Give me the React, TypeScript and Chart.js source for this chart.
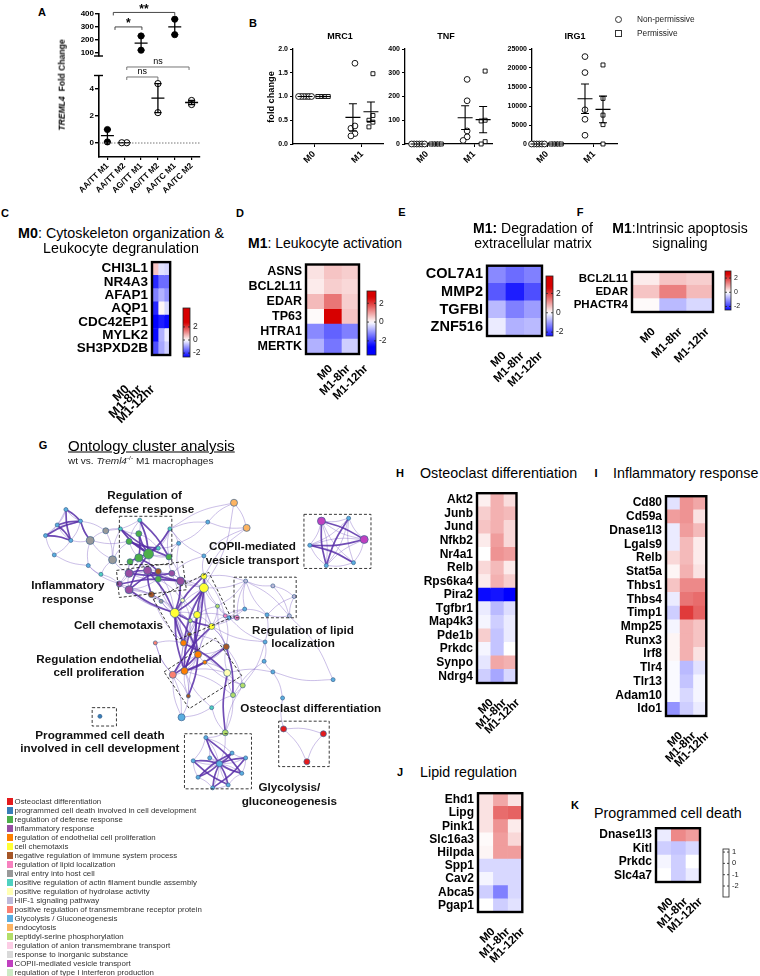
import React, { useEffect, useRef } from "react";
import { Chart, registerables } from "chart.js";

Chart.register(...registerables);
const FONT = "'Liberation Sans', Arial, Helvetica, sans-serif";
Chart.defaults.font.family = FONT;
Chart.defaults.color = "#000";

/* ---------------- Panel A data ---------------- */
const A_GROUPS = ["AA/TT M1", "AA/TT M2", "AG/TT M1", "AG/TT M2", "AA/TC M1", "AA/TC M2"];
const A_FILLED = [true, false, true, false, true, false];
const A_POINTS = [[1.0, 0.08], [0.02, 0.02], [230, 120], [4.4, 2.25], [360, 240], [3.15, 2.85]];
const A_TOP_TICKS = [100, 200, 300, 400];
const A_LOW_TICKS = [0, 2, 4];
const A_BRACKETS_TOP = [
  { from: 1.35, to: 5, y: 412, label: "**" },
  { from: 1.45, to: 3.05, y: 300, label: "*" },
];
const A_BRACKETS_LOW = [
  { from: 2.15, to: 5.85, y: 5.63, label: "ns" },
  { from: 2.15, to: 4.0, y: 4.89, label: "ns" },
];

/* ---------------- Panel B data ---------------- */
const B_X = ["M0", "M1"];
const MRC1_NONPERM = [[1, 1, 1, 1, 1, 1], [1.7, 0.33, 0.38, 0.22, 0.17]];
const MRC1_PERM = [[1, 1, 1, 1, 1], [1.48, 0.6, 0.5, 0.36, 0.46]];
const TNF_NONPERM = [[0, 0, 0, 0, 0, 0], [272, 182, 55, 30, 15]];
const TNF_PERM = [[0, 0, 0, 0, 0], [307, 100, 97, 10, 0]];
const IRG1_NONPERM = [[0, 0, 0, 0, 0, 0], [23000, 18800, 9000, 6500, 2300]];
const IRG1_PERM = [[0, 0, 0, 0, 0], [20800, 12000, 7600, 5100, 0]];

/* ---------------- Heatmap data ---------------- */
const HM_COLS = ["M0", "M1-8hr", "M1-12hr"];
const C_GENES = ["CHI3L1", "NR4A3", "AFAP1", "AQP1", "CDC42EP1", "MYLK2", "SH3PXD2B"];
const C_VALS = [[0.6, -0.3, -0.4], [-2.2, -1.5, -1.5], [-1.3, -0.8, -1.1], [-2.2, 0.1, -0.4], [-2.6, -2.3, -2.5], [-2.5, -0.8, -0.2], [-1.8, -0.9, -0.5]];
const D_GENES = ["ASNS", "BCL2L11", "EDAR", "TP63", "HTRA1", "MERTK"];
const D_VALS = [[0.3, 0.6, 0.5], [0.2, 0.5, 0.4], [0.7, 1.4, 0.5], [0.05, 3.0, 0.6], [-1.2, -1.6, -1.3], [-0.8, -1.4, -0.5]];
const E_GENES = ["COL7A1", "MMP2", "TGFBI", "ZNF516"];
const E_VALS = [[-1.2, -1.5, -1.3], [-1.7, -2.3, -1.8], [-0.7, -1.3, -1.0], [-0.2, -0.8, -0.7]];
const F_GENES = ["BCL2L11", "EDAR", "PHACTR4"];
const F_VALS = [[0.2, 0.6, 0.5], [0.6, 1.3, 0.7], [0.05, -0.7, -0.4]];
const H_GENES = ["Akt2", "Junb", "Jund", "Nfkb2", "Nr4a1", "Relb", "Rps6ka4", "Pira2", "Tgfbr1", "Map4k3", "Pde1b", "Prkdc", "Synpo", "Ndrg4"];
const H_VALS = [[0.15, 0.8, 0.35], [0.5, 0.8, 0.7], [0.6, 0.8, 0.4], [0.2, 1.0, 0.4], [0.0, 1.1, 1.0], [0.4, 0.7, 0.2], [0.2, 0.8, 0.5], [-2.5, -2.4, -2.7], [-0.2, -0.7, -0.35], [-0.1, -0.5, -0.2], [0.5, -0.6, -0.2], [-0.1, -0.6, 0.0], [-0.25, 0.9, 0.8], [-0.5, -0.9, -0.4]];
const I_GENES = ["Cd80", "Cd59a", "Dnase1l3", "Lgals9", "Relb", "Stat5a", "Thbs1", "Thbs4", "Timp1", "Mmp25", "Runx3", "Irf8", "Tlr4", "Tlr13", "Adam10", "Ido1"];
const I_VALS = [[-0.3, 1.1, 0.9], [1.0, 1.1, 0.3], [-0.2, 1.0, 0.7], [-0.2, 0.7, 0.2], [0.4, 0.7, 0.2], [0.1, 0.8, 0.3], [0.6, 1.2, 1.2], [-0.2, 1.4, 1.5], [-0.5, 2.0, 1.6], [-0.1, 0.8, 0.6], [0.1, 0.8, 0.6], [0.1, 0.8, 0.3], [-0.05, -0.7, -0.3], [-0.05, -0.6, -0.1], [-0.05, -0.4, -0.1], [-1.1, -0.5, -0.2]];
const J_GENES = ["Ehd1", "Lipg", "Pink1", "Slc16a3", "Hilpda", "Spp1", "Cav2", "Abca5", "Pgap1"];
const J_VALS = [[0.3, 0.9, 0.3], [0.3, 1.5, 1.6], [0.3, 1.1, 0.2], [0.05, 1.0, 0.4], [0.1, 1.0, 1.0], [-0.4, -0.4, -0.4], [-0.1, -0.4, -0.4], [-0.5, -1.3, -0.4], [0.0, -0.5, -0.3]];
const K_GENES = ["Dnase1l3", "Kitl", "Prkdc", "Slc4a7"];
const K_VALS = [[-0.2, 1.2, 1.0], [-0.5, -0.6, -0.4], [-0.1, -0.5, 0.0], [0.0, -0.5, -0.2]];
const CB_TICKS = [2, 0, -2];
const K_CB_TICKS = [1, 0, -1, -2];

/* ---------------- Panel G data ---------------- */
const G_LEGEND = [
  "Osteoclast differentiation", "programmed cell death involved in cell development", "regulation of defense response",
  "inflammatory response", "regulation of endothelial cell proliferation", "cell chemotaxis",
  "negative regulation of immune system process", "regulation of lipid localization", "viral entry into host cell",
  "positive regulation of actin filament bundle assembly", "positive regulation of hydrolase activity", "HIF-1 signaling pathway",
  "positive regulation of transmembrane receptor protein", "Glycolysis / Gluconeogenesis", "endocytosis",
  "peptidyl-serine phosphorylation", "regulation of anion transmembrane transport", "response to inorganic substance",
  "COPII-mediated vesicle transport", "regulation of type I interferon production",
];
const G_COLORS = ["#e41a1c", "#377eb8", "#4daf4a", "#984ea3", "#ff7f00", "#ffff33", "#a65628", "#f781bf", "#999999", "#4fd1c0",
  "#ffffb3", "#bebada", "#fb8072", "#5aaee0", "#fdb462", "#b3de69", "#fccde5", "#d9d9d9", "#c040c0", "#ccebc5"];
const NODE_X = [62, 53, 77, 41, 67, 50, 87, 103, 85, 98, 110,
  138, 118, 169, 137, 127, 147, 137, 128, 168, 157, 178,
  127, 146, 117, 127, 180, 157, 157, 150, 171, 160,
  204, 204, 174, 197, 212, 182, 190, 218, 226,
  183, 189, 198, 184, 172, 227, 228, 188, 154, 205,
  244, 234, 212, 181, 226,
  220, 206, 233, 247, 243, 229, 213, 198, 193, 210,
  247, 275, 297, 292, 269, 246, 238, 230,
  267, 266, 275, 285, 337,
  286, 327, 310,
  325, 353, 313, 369, 330, 358,
  235, 248, 208,
  204, 97];
const NODE_Y = [505, 521, 517, 532, 537, 552, 537, 527, 563, 572, 557,
  516, 525, 525, 530, 538, 551, 555, 559, 554, 545, 540,
  571, 568, 582, 588, 579, 577, 569, 593, 571, 600,
  574, 586, 612, 614, 626, 599, 620, 605, 615,
  643, 634, 655, 672, 676, 647, 674, 698, 643, 663,
  687, 697, 710, 720, 736,
  768, 741, 757, 762, 778, 790, 793, 782, 765, 762,
  579, 584, 595, 615, 614, 608, 617, 617,
  642, 662, 673, 700, 681,
  732, 737, 766,
  517, 514, 542, 536, 563, 560,
  498, 524, 518,
  553, 719];
const NODE_C = [13, 13, 13, 13, 13, 13, 8, 8, 13, 9, 8,
  9, 9, 9, 2, 2, 2, 2, 2, 2, 9, 13,
  3, 3, 3, 3, 3, 2, 6, 6, 3, 8,
  5, 5, 5, 5, 5, 10, 15, 15, 7,
  4, 6, 4, 4, 12, 6, 10, 6, 12, 4,
  15, 15, 9, 13, 15,
  13, 13, 13, 13, 13, 13, 13, 13, 13, 13,
  11, 11, 11, 11, 13, 13, 7, 13,
  13, 13, 13, 13, 13,
  0, 0, 0,
  18, 13, 13, 18, 13, 13,
  14, 14, 13,
  13, 1];
const NODE_S = [2, 2, 2, 2, 2, 2, 4, 3, 2, 2, 4,
  2, 2, 2, 3, 3, 5, 4, 3, 3, 2, 2,
  4, 4, 3, 4, 4, 3, 3, 3, 3, 2,
  3, 4.5, 4.5, 3.5, 3, 2, 2, 2, 2,
  3, 2, 3.5, 3.5, 3.5, 3, 3.5, 2, 2, 2,
  2.5, 2.5, 2, 3.5, 3,
  3, 2, 2, 2, 2, 2, 2, 2, 2, 2,
  2, 2, 2, 2, 2, 2, 2.5, 2,
  2, 2, 2, 2, 2,
  3, 3, 3,
  4, 2, 2, 4, 2, 2,
  3.5, 3.5, 2,
  2, 2];
const EDGES_LIGHT = `0-1 0-2 0-3 1-2 1-3 1-4 2-4 2-6 2-7 3-5 4-5 4-6 3-4 5-8 6-7 6-10 7-10 8-9 9-10 6-8 7-12 6-15 10-15 10-22 9-24 8-24 10-12 7-11
11-14 11-15 11-16 12-14 12-15 12-16 13-16 13-19 13-20 14-16 15-16 16-17 16-18 16-19 16-20 17-18 17-19 18-22 19-21 20-21 14-20 15-17 13-21
22-23 22-24 22-25 23-25 23-26 23-27 24-25 25-29 26-30 27-28 28-30 29-31 22-28 23-28 25-27 26-28 16-22 16-23 17-23 19-26 17-27 18-24 21-26 30-19
32-33 32-35 33-34 33-35 33-36 34-35 34-37 35-36 36-39 37-38 38-34 39-40 32-39 35-40 26-32 26-33 30-33 29-34 31-34 27-37 28-33 26-34 30-35 36-40 24-34
32-41 33-41 33-43 34-43 35-41 36-43 36-46 37-41 38-41 39-46 40-46 32-36 32-40 33-39 34-38 35-38 35-39 29-41 31-41 25-34 24-38 27-34 28-34 22-27 25-31
41-42 41-43 42-43 43-44 43-45 44-45 43-46 44-47 46-47 45-48 48-44 49-41 49-45 50-43 50-46 41-34 42-35 43-35 46-36 34-44 38-43 45-49 47-51 46-51 43-48
41-45 41-44 42-46 42-47 45-54 44-48 44-52 50-51 50-47 46-50
51-52 52-53 53-54 53-55 55-56 51-55 52-55 44-53 48-54 47-52 54-45
56-57 56-58 56-59 56-60 56-61 56-62 56-63 56-64 56-65 57-58 58-59 59-60 60-61 61-62 62-63 63-64 64-57 57-65 65-60 55-57
66-67 67-68 68-69 69-70 70-71 71-66 66-70 67-69 66-72 72-73 71-73 40-72 39-73 36-72 68-70 66-69 39-66 40-71 36-71 32-66 33-66
70-74 73-74 74-75 75-76 76-77 76-78 69-78 77-79 52-75 51-74 47-76 36-74
79-80 80-81 79-81
82-83 82-84 82-85 82-86 82-87 83-84 83-85 83-86 83-87 84-85 84-86 84-87 85-86 85-87 86-87
88-89 88-90 89-90 89-32 90-21 88-13 91-13 91-32 91-89 90-13 88-33 91-30`;
const EDGES_DARK = `0-2 0-4 1-4 2-3 3-4 2-6 1-2
16-11 16-12 16-13 16-14 16-15 16-20 16-18 14-17 12-19 11-19 15-20
22-23 23-26 25-28 22-30 24-26 16-25 17-28 23-29
33-34 34-36 35-33 32-34 33-44 34-41 35-44 36-45 26-34 33-41 34-43 35-43 32-33 34-44 23-34 25-34
43-45 44-46 41-47 44-50 43-48 42-44
56-57 56-58 56-59 56-60 56-61 56-62 56-63 56-64 57-60 58-63 59-62 64-61
82-85 83-86 84-87 82-86 85-84
47-55 46-52`;
const G_LABELS = [
  { lines: ["Regulation of", "defense response"], x: 143, y: 491 },
  { lines: ["COPII-mediated", "vesicle transport"], x: 254, y: 544 },
  { lines: ["Inflammatory", "response"], x: 64, y: 584 },
  { lines: ["Cell chemotaxis"], x: 116, y: 625 },
  { lines: ["Regulation of lipid", "localization"], x: 306, y: 630 },
  { lines: ["Regulation endothelial", "cell proliferation"], x: 96, y: 660 },
  { lines: ["Osteoclast differentiation"], x: 314, y: 711 },
  { lines: ["Programmed cell death", "involved in cell development"], x: 97, y: 739 },
  { lines: ["Glycolysis/", "gluconeogenesis"], x: 292, y: 793 },
];
const G_BOXES = [
  [[117, 512], [171, 512], [171, 562], [117, 562]],
  [[307, 510], [376, 510], [376, 566], [307, 566]],
  [[114, 568], [182, 559], [186, 588], [117, 596]],
  [[152, 598], [209, 570], [232, 617], [176, 640]],
  [[163, 673], [216, 638], [243, 677], [189, 711]],
  [[235, 575], [299, 575], [299, 617], [235, 617]],
  [[89, 710], [114, 710], [114, 729], [89, 729]],
  [[184, 737], [253, 737], [253, 794], [184, 794]],
  [[281, 724], [333, 724], [333, 771], [281, 771]],
];

/* ---------------- helpers ---------------- */
function heatColor(v: number) {
  const t = Math.max(-1, Math.min(1, v / 2.6));
  if (t >= 0) {
    const r = Math.round(255 - 40 * t), g = Math.round(255 * (1 - t)), b = Math.round(255 * (1 - t));
    return `rgb(${r},${g},${b})`;
  }
  const s = -t;
  const c = Math.round(255 * (1 - s));
  return `rgb(${c},${c},255)`;
}

function swarm(vals: number[], toPx: (v: number) => number, step: number, thresh: number) {
  const order = vals.map((_, i) => i).sort((a, b) => vals[b] - vals[a]);
  const placed: { y: number; d: number }[] = [];
  const off = vals.map(() => 0);
  for (const i of order) {
    const y = toPx(vals[i]);
    for (let k = 0; k < 30; k++) {
      const d = k === 0 ? 0 : (k % 2 ? -1 : 1) * Math.ceil(k / 2) * step;
      if (placed.every((p) => Math.abs(p.y - y) >= thresh || Math.abs(p.d - d) >= step * 0.99)) {
        off[i] = d;
        placed.push({ y, d });
        break;
      }
    }
  }
  const mn = Math.min(...off), mx = Math.max(...off);
  return off.map((o) => o - (mn + mx) / 2);
}

function meanSem(vals: number[]) {
  const n = vals.length;
  const m = vals.reduce((a, b) => a + b, 0) / n;
  const sd = Math.sqrt(vals.reduce((a, b) => a + (b - m) * (b - m), 0) / (n - 1));
  return { m, se: sd / Math.sqrt(n) };
}

const parseEdges = (s: string) => s.trim().split(/\s+/).map((e) => e.split("-").map(Number));

/* ---------------- plugins ---------------- */
const meanPlugin = {
  id: "meanSem",
  afterDatasetsDraw(chart: any, _a: any, opts: any) {
    const { ctx } = chart;
    const x = chart.scales.x, y = chart.scales.y;
    ctx.save();
    ctx.strokeStyle = "#000";
    ctx.lineWidth = opts.lw || 1.2;
    for (const g of opts.groups || []) {
      const { m, se } = meanSem(g.vals);
      if (m < y.min || m > y.max) continue;
      const px = x.getPixelForValue(g.x);
      const pm = y.getPixelForValue(m);
      ctx.beginPath();
      ctx.moveTo(px - opts.half, pm);
      ctx.lineTo(px + opts.half, pm);
      if (se > 0) {
        const a = y.getPixelForValue(m + se), b = y.getPixelForValue(m - se);
        ctx.moveTo(px, a);
        ctx.lineTo(px, b);
        ctx.moveTo(px - opts.cap, a);
        ctx.lineTo(px + opts.cap, a);
        ctx.moveTo(px - opts.cap, b);
        ctx.lineTo(px + opts.cap, b);
      }
      ctx.stroke();
    }
    ctx.restore();
  },
};

const aExtras = {
  id: "aExtras",
  afterDraw(chart: any, _a: any, opts: any) {
    const { ctx, chartArea: ar } = chart;
    const x = chart.scales.x, y = chart.scales.y;
    ctx.save();
    ctx.strokeStyle = "#000";
    ctx.lineWidth = 1.4;
    ctx.beginPath();
    const capY = opts.cap === "bottom" ? ar.bottom : ar.top;
    ctx.moveTo(ar.left - 5, capY);
    ctx.lineTo(ar.left + 4, capY);
    ctx.stroke();
    if (opts.zero) {
      ctx.strokeStyle = "#777";
      ctx.lineWidth = 1;
      ctx.setLineDash([1.5, 1.5]);
      const z = y.getPixelForValue(0);
      ctx.beginPath();
      ctx.moveTo(ar.left, z);
      ctx.lineTo(ar.right, z);
      ctx.stroke();
      ctx.setLineDash([]);
    }
    for (const b of opts.brackets || []) {
      const x0 = x.getPixelForValue(b.from), x1 = x.getPixelForValue(b.to);
      const yy = y.getPixelForValue(b.y);
      ctx.strokeStyle = b.label === "ns" ? "#666" : "#333";
      ctx.lineWidth = 0.9;
      ctx.beginPath();
      ctx.moveTo(x0, yy + 3);
      ctx.lineTo(x0, yy);
      ctx.lineTo(x1, yy);
      ctx.lineTo(x1, yy + 3);
      ctx.stroke();
      ctx.fillStyle = "#000";
      ctx.textAlign = "center";
      ctx.textBaseline = "bottom";
      ctx.font = b.label === "ns" ? `9px ${FONT}` : `bold 12px ${FONT}`;
      ctx.fillText(b.label, (x0 + x1) / 2, b.label === "ns" ? yy - 0.5 : yy + 3);
    }
    ctx.restore();
  },
};

const heatFrame = {
  id: "heatFrame",
  afterDraw(chart: any, _a: any, opts: any) {
    const { ctx, chartArea: a } = chart;
    ctx.save();
    ctx.strokeStyle = "#000";
    ctx.lineWidth = 2.4;
    ctx.strokeRect(a.left, a.top, a.right - a.left, a.bottom - a.top);
    const cb = opts && opts.cb;
    if (cb) {
      const [ox, oy] = opts.origin;
      const x = cb.x - ox, y0 = cb.y0 - oy, y1 = cb.y1 - oy, w = cb.w;
      const vy = (v: number) => y0 + ((cb.vTop - v) / (cb.vTop - cb.vBot)) * (y1 - y0);
      if (cb.blank) {
        ctx.fillStyle = "#fff";
      } else {
        const g = ctx.createLinearGradient(0, y0, 0, y1);
        for (let k = 0; k <= 24; k++) {
          const f = k / 24;
          g.addColorStop(f, heatColor(cb.vTop + (cb.vBot - cb.vTop) * f));
        }
        ctx.fillStyle = g;
      }
      ctx.fillRect(x, y0, w, y1 - y0);
      ctx.lineWidth = 0.8;
      ctx.strokeStyle = "#222";
      ctx.strokeRect(x, y0, w, y1 - y0);
      ctx.font = `${cb.fs}px ${FONT}`;
      ctx.fillStyle = "#222";
      ctx.textBaseline = "middle";
      ctx.textAlign = "left";
      for (const t of cb.ticks) {
        const yy = vy(t);
        ctx.beginPath();
        ctx.moveTo(x, yy);
        ctx.lineTo(x + 2, yy);
        ctx.moveTo(x + w - 2, yy);
        ctx.lineTo(x + w, yy);
        ctx.stroke();
        ctx.fillText(String(t), x + w + 3, yy);
      }
    }
    ctx.restore();
  },
};

const netDecor = {
  id: "netDecor",
  afterDraw(chart: any) {
    const { ctx } = chart;
    const x = chart.scales.x, y = chart.scales.y;
    ctx.save();
    ctx.strokeStyle = "#222";
    ctx.lineWidth = 0.9;
    ctx.setLineDash([3, 2]);
    for (const poly of G_BOXES) {
      ctx.beginPath();
      poly.forEach((p: number[], i: number) => {
        const px = x.getPixelForValue(p[0]), py = y.getPixelForValue(p[1]);
        if (i === 0) ctx.moveTo(px, py);
        else ctx.lineTo(px, py);
      });
      ctx.closePath();
      ctx.stroke();
    }
    ctx.setLineDash([]);
    ctx.fillStyle = "#111";
    ctx.font = `bold 11.7px ${FONT}`;
    ctx.textAlign = "center";
    ctx.textBaseline = "middle";
    for (const l of G_LABELS) {
      l.lines.forEach((t, i) => ctx.fillText(t, x.getPixelForValue(l.x), y.getPixelForValue(l.y + i * 14)));
    }
    ctx.restore();
  },
};

/* ---------------- chart configs ---------------- */
const noGrid = { display: false, drawTicks: false };

function heatmapConfig(o: any) {
  const { genes, vals, box, canvas, fs, xfs, cb, xOff = 8, xPad = 13, spread = 1 } = o;
  const [x0, y0, x1, y1] = box;
  const [cl, ct, cr, cbm] = canvas;
  return {
    type: "bar",
    data: {
      labels: genes,
      datasets: HM_COLS.map((c, j) => ({
        label: c,
        data: genes.map(() => 1),
        backgroundColor: vals.map((r: number[]) => heatColor(r[j])),
        borderWidth: 0,
        barPercentage: 1,
        categoryPercentage: 1,
      })),
    },
    options: {
      indexAxis: "y",
      responsive: false,
      animation: false,
      events: [],
      layout: { padding: { left: 0, top: y0 - ct, right: cr - x1, bottom: 0 } },
      plugins: { legend: { display: false }, tooltip: { enabled: false }, heatFrame: { cb, origin: [cl, ct] } },
      scales: {
        x: {
          type: "linear",
          stacked: true,
          min: 0,
          max: 3,
          grid: noGrid,
          border: { display: false },
          afterBuildTicks: (s: any) => {
            s.ticks = [0.5, 1.5, 2.5].map((v) => ({ value: 1.5 + (v - 1.5) * spread }));
          },
          afterFit: (s: any) => {
            s.height = cbm - y1;
          },
          ticks: {
            autoSkip: false,
            minRotation: 45,
            maxRotation: 45,
            padding: xPad,
            labelOffset: xOff,
            font: { size: xfs, weight: "bold" },
            callback: (_v: number, i: number) => HM_COLS[i],
          },
        },
        y: {
          type: "category",
          stacked: true,
          grid: noGrid,
          border: { display: false },
          afterFit: (s: any) => {
            s.width = x0 - cl;
          },
          ticks: { autoSkip: false, padding: 4, font: { size: fs, weight: "bold" } },
        },
      },
    },
    plugins: [heatFrame],
  };
}

function dotConfig(o: any) {
  const { np, p, yMax, yStep, xMin, xMax, area, canvas, fmt } = o;
  const [ax0, ay0, ax1, ay1] = area;
  const [cl, ct, cr, cbm] = canvas;
  const pxX = (ax1 - ax0) / (xMax - xMin);
  const pxY = (ay1 - ay0) / yMax;
  const side = 9 / pxX;
  const build = (groups: number[][], sgn: number) =>
    groups.flatMap((vals, g) => {
      const same = vals.every((v) => v === vals[0]);
      const offs = swarm(vals, (v) => v * pxY, same ? 2.6 : 4, 5);
      return vals.map((v, i) => ({ x: g + 1 + sgn * side + offs[i] / pxX, y: v }));
    });
  const groups = [
    ...np.map((vals: number[], g: number) => ({ x: g + 1 - side, vals })),
    ...p.map((vals: number[], g: number) => ({ x: g + 1 + side, vals })),
  ];
  return {
    type: "scatter",
    data: {
      datasets: [
        { label: "Non-permissive", data: build(np, -1), pointStyle: "circle", pointRadius: 2.9, pointBorderWidth: 0.9, pointBorderColor: "#000", pointBackgroundColor: "#fff" },
        { label: "Permissive", data: build(p, 1), pointStyle: "rect", pointRadius: 2.8, pointBorderWidth: 0.9, pointBorderColor: "#000", pointBackgroundColor: "#fff" },
      ],
    },
    options: {
      responsive: false,
      animation: false,
      events: [],
      clip: false,
      layout: { padding: { left: 0, top: ay0 - ct, right: cr - ax1, bottom: 0 } },
      plugins: { legend: { display: false }, tooltip: { enabled: false }, meanSem: { groups, half: 7.5, cap: 4, lw: 1.1 } },
      scales: {
        x: {
          type: "linear",
          min: xMin,
          max: xMax,
          grid: { display: true, drawOnChartArea: false, drawTicks: true, tickLength: 3, color: "#000" },
          border: { display: true, color: "#000", width: 1.3 },
          afterBuildTicks: (s: any) => {
            s.ticks = [1, 2].map((v) => ({ value: v }));
          },
          afterFit: (s: any) => {
            s.height = cbm - ay1;
          },
          ticks: { autoSkip: false, minRotation: 45, maxRotation: 45, padding: 2, font: { size: 9, weight: "bold" }, callback: (v: number) => B_X[v - 1] },
        },
        y: {
          min: 0,
          max: yMax,
          grid: { display: true, drawOnChartArea: false, drawTicks: true, tickLength: 3, color: "#000" },
          border: { display: true, color: "#000", width: 1.3 },
          afterFit: (s: any) => {
            s.width = ax0 - cl;
          },
          ticks: { stepSize: yStep, padding: 2, font: { size: 7, weight: "bold" }, callback: fmt },
        },
      },
    },
    plugins: [meanPlugin],
  };
}

function aConfig(part: "top" | "low") {
  const top = part === "top";
  const canvas = top ? [50, 0, 205, 76] : [50, 58, 205, 208];
  const area = top ? [99, 14, 200, 66] : [99, 75.5, 200, 156.5];
  const yMin = top ? 75 : -1, yMax = top ? 400 : 5;
  const pxX = (area[2] - area[0]) / 6;
  const toPxAll = (v: number) => (v > 10 ? 1000 + v * 0.16 : v * 13.5);
  const pts = (filled: boolean) =>
    A_POINTS.flatMap((vals, g) => {
      if (A_FILLED[g] !== filled) return [];
      const offs = swarm(vals, toPxAll, 5, 3);
      return vals.map((v, i) => ({ x: g + 1 + offs[i] / pxX, y: v }));
    });
  const groups = A_POINTS.map((vals, g) => ({ x: g + 1, vals }));
  const ticks = top ? A_TOP_TICKS : A_LOW_TICKS;
  return {
    type: "scatter",
    data: {
      datasets: [
        { data: pts(true), pointRadius: 3.1, pointBackgroundColor: "#000", pointBorderColor: "#000", pointBorderWidth: 0.8 },
        { data: pts(false), pointRadius: 3.1, pointBackgroundColor: "#fff", pointBorderColor: "#000", pointBorderWidth: 1 },
      ],
    },
    options: {
      responsive: false,
      animation: false,
      events: [],
      layout: { padding: { left: 0, top: area[1] - canvas[1], right: canvas[2] - area[2], bottom: top ? canvas[3] - area[3] : 0 } },
      plugins: {
        legend: { display: false },
        tooltip: { enabled: false },
        meanSem: { groups, half: 6.5, cap: 3.5, lw: 1.3 },
        aExtras: { cap: top ? "bottom" : "top", zero: !top, brackets: top ? A_BRACKETS_TOP : A_BRACKETS_LOW },
      },
      scales: {
        x: {
          type: "linear",
          display: !top,
          min: 0.5,
          max: 6.5,
          grid: { display: true, drawOnChartArea: false, drawTicks: true, tickLength: 3.5, color: "#000", lineWidth: 1.2 },
          border: { display: true, color: "#000", width: 1.6 },
          afterBuildTicks: (s: any) => {
            s.ticks = [1, 2, 3, 4, 5, 6].map((v) => ({ value: v }));
          },
          afterFit: (s: any) => {
            s.height = canvas[3] - area[3];
          },
          ticks: { autoSkip: false, minRotation: 45, maxRotation: 45, padding: 1, font: { size: 8.3, weight: "bold" }, callback: (v: number) => A_GROUPS[v - 1] },
        },
        y: {
          min: yMin,
          max: yMax,
          grid: { display: true, drawOnChartArea: false, drawTicks: true, tickLength: 4, color: "#000", lineWidth: 1.4 },
          border: { display: true, color: "#000", width: 1.6 },
          afterBuildTicks: (s: any) => {
            s.ticks = ticks.map((v) => ({ value: v }));
          },
          afterFit: (s: any) => {
            s.width = area[0] - canvas[0];
          },
          ticks: { padding: 1, font: { size: 8, weight: "bold" } },
        },
      },
    },
    plugins: [meanPlugin, aExtras],
  };
}

function netConfig() {
  const edgeSets = (list: number[][], dark: boolean) =>
    list.map(([a, b], k) => {
      const x0 = NODE_X[a], y0 = NODE_Y[a], x1 = NODE_X[b], y1 = NODE_Y[b];
      const bend = (k % 2 ? 1 : -1) * (dark ? 0.05 : 0.07);
      const mid = { x: (x0 + x1) / 2 - (y1 - y0) * bend, y: (y0 + y1) / 2 + (x1 - x0) * bend };
      return {
        data: [{ x: x0, y: y0 }, mid, { x: x1, y: y1 }],
        showLine: true,
        pointRadius: 0,
        tension: 0.4,
        borderColor: dark ? "rgba(88,46,168,0.85)" : "rgba(125,95,195,0.5)",
        borderWidth: dark ? 1.7 : 0.8,
      };
    });
  return {
    type: "scatter",
    data: {
      datasets: [
        {
          data: NODE_X.map((x, i) => ({ x, y: NODE_Y[i] })),
          pointRadius: NODE_S,
          pointBackgroundColor: NODE_C.map((c) => G_COLORS[c]),
          pointBorderColor: "#3f6690",
          pointBorderWidth: 0.7,
        },
        ...edgeSets(parseEdges(EDGES_DARK), true),
        ...edgeSets(parseEdges(EDGES_LIGHT), false),
      ],
    },
    options: {
      responsive: false,
      animation: false,
      events: [],
      layout: { padding: 0 },
      plugins: { legend: { display: false }, tooltip: { enabled: false } },
      scales: {
        x: { type: "linear", display: false, min: 0, max: 400 },
        y: { type: "linear", display: false, min: 470, max: 810, reverse: true },
      },
    },
    plugins: [netDecor],
  };
}

/* ---------------- components ---------------- */
function ChartCanvas({ box, make }: any) {
  const ref = useRef<HTMLCanvasElement>(null);
  useEffect(() => {
    const c = new Chart(ref.current as HTMLCanvasElement, make());
    return () => c.destroy();
  }, []);
  const [l, t, r, b] = box;
  return <canvas ref={ref} width={r - l} height={b - t} style={{ position: "absolute", left: l, top: t, width: r - l, height: b - t }} />;
}

function T({ x, y, s, w = "normal", a = "center", c = "#000", rot, sx, children, style }: any) {
  const tr = a === "center" ? "translate(-50%,-50%)" : a === "left" ? "translate(0,-50%)" : "translate(-100%,-50%)";
  return (
    <div
      style={{
        position: "absolute",
        left: x,
        top: y,
        transform: tr + (rot ? ` rotate(${rot}deg)` : "") + (sx ? ` scaleX(${sx})` : ""),
        transformOrigin: a === "left" ? "left center" : "center center",
        font: `${w} ${s}px ${FONT}`,
        color: c,
        whiteSpace: "nowrap",
        lineHeight: 1,
        ...style,
      }}
    >
      {children}
    </div>
  );
}

const HEATMAPS = [
  { genes: C_GENES, vals: C_VALS, box: [152, 261, 173, 355], canvas: [30, 250, 205, 440], fs: 13.5, xfs: 12.5, spread: 2.1, xOff: -21, xPad: 27, cb: { x: 183, y0: 308, y1: 357, w: 7, vTop: 4.9, vBot: -2.6, ticks: CB_TICKS, fs: 8.5 } },
  { genes: D_GENES, vals: D_VALS, box: [306, 263, 359, 354], canvas: [230, 253, 395, 415], fs: 12.5, xfs: 11.5, xOff: 16, xPad: 8, cb: { x: 367, y0: 291, y1: 355, w: 9, vTop: 3.3, vBot: -3.5, ticks: CB_TICKS, fs: 8.5 } },
  { genes: E_GENES, vals: E_VALS, box: [487, 263, 542, 336], canvas: [400, 253, 570, 400], fs: 14.5, xfs: 11.5, cb: { x: 546, y0: 276, y1: 336, w: 7, vTop: 3.8, vBot: -2.4, ticks: CB_TICKS, fs: 8.5 } },
  { genes: F_GENES, vals: F_VALS, box: [632, 271, 713, 312], canvas: [560, 261, 758, 375], fs: 11.5, xfs: 11.5, cb: { x: 725, y0: 271, y1: 310, w: 6, vTop: 3.0, vBot: -2.5, ticks: CB_TICKS, fs: 7 } },
  { genes: H_GENES, vals: H_VALS, box: [477, 492, 521, 683], canvas: [400, 482, 535, 750], fs: 12, xfs: 11.5 },
  { genes: I_GENES, vals: I_VALS, box: [666, 495, 709, 716], canvas: [590, 485, 725, 780], fs: 12, xfs: 11.5 },
  { genes: J_GENES, vals: J_VALS, box: [478, 792, 526, 912], canvas: [400, 782, 540, 975], fs: 12, xfs: 11.5 },
  { genes: K_GENES, vals: K_VALS, box: [656, 827, 700, 882], canvas: [585, 817, 758, 950], fs: 12, xfs: 11.5, cb: { x: 723, y0: 849, y1: 897, w: 6, vTop: 1.27, vBot: -2.97, ticks: K_CB_TICKS, fs: 7.5, blank: true } },
];

const B_CHARTS = [
  { np: MRC1_NONPERM, p: MRC1_PERM, yMax: 2, yStep: 0.5, xMin: 0.56, xMax: 2.44, area: [293, 49, 383, 144], canvas: [262, 40, 390, 180], fmt: (v: number) => v.toFixed(1) },
  { np: TNF_NONPERM, p: TNF_PERM, yMax: 400, yStep: 100, xMin: 0.53, xMax: 2.38, area: [405, 49, 492, 144], canvas: [380, 40, 498, 180], fmt: (v: number) => String(v) },
  { np: IRG1_NONPERM, p: IRG1_PERM, yMax: 25000, yStep: 5000, xMin: 0.68, xMax: 2.49, area: [532, 49, 617, 144], canvas: [495, 40, 622, 180], fmt: (v: number) => String(v) },
];

export default function App() {
  return (
    <div style={{ position: "absolute", left: 0, top: 0, width: 760, height: 976, background: "#fff", overflow: "hidden", fontFamily: FONT }}>
      {/* Panel letters */}
      <T x={42} y={12} s={11} w="bold">A</T>
      <T x={253} y={23} s={11} w="bold">B</T>
      <T x={5} y={213} s={11} w="bold">C</T>
      <T x={240} y={213} s={11} w="bold">D</T>
      <T x={402} y={212} s={11} w="bold">E</T>
      <T x={580} y={212} s={11} w="bold">F</T>
      <T x={43} y={445} s={11} w="bold">G</T>
      <T x={400} y={473} s={11} w="bold">H</T>
      <T x={596} y={473} s={11} w="bold">I</T>
      <T x={400} y={772} s={11} w="bold">J</T>
      <T x={575} y={805} s={11} w="bold">K</T>

      {/* Panel A */}
      <ChartCanvas box={[50, 0, 205, 76]} make={() => aConfig("top")} />
      <ChartCanvas box={[50, 58, 205, 208]} make={() => aConfig("low")} />
      <T x={62} y={85} s={8.6} w="bold" rot={-90}>
        <i>TREML4</i>&nbsp; Fold Change
      </T>

      {/* Panel B */}
      {B_CHARTS.map((b, i) => (
        <ChartCanvas key={i} box={b.canvas} make={() => dotConfig(b)} />
      ))}
      <T x={340} y={36} s={9} w="bold">MRC1</T>
      <T x={446} y={36} s={9} w="bold">TNF</T>
      <T x={575} y={36} s={9} w="bold">IRG1</T>
      <T x={272} y={97} s={9.2} w="bold" rot={-90}>fold change</T>
      <div style={{ position: "absolute", left: 615, top: 16, width: 5, height: 5, border: "1px solid #333", borderRadius: "50%" }} />
      <div style={{ position: "absolute", left: 615, top: 30, width: 5, height: 5, border: "1px solid #333" }} />
      <T x={637} y={19} s={8.3} a="left" c="#222">Non-permissive</T>
      <T x={637} y={33} s={8.3} a="left" c="#222">Permissive</T>

      {/* Heatmap titles */}
      <T x={121} y={233} s={14.3}><b>M0</b>: Cytoskeleton organization &amp;</T>
      <T x={121} y={248} s={14.3}>Leukocyte degranulation</T>
      <T x={248} y={243} s={14} a="left"><b>M1</b>: Leukocyte activation</T>
      <T x={533} y={228} s={14}><b>M1:</b> Degradation of</T>
      <T x={533} y={243} s={14}>extracellular matrix</T>
      <T x={680} y={228} s={14}><b>M1</b>:Intrinsic apoptosis</T>
      <T x={680} y={243} s={14}>signaling</T>
      <T x={420} y={473} s={14.3} a="left">Osteoclast differentiation</T>
      <T x={613} y={473} s={14.3} a="left">Inflammatory response</T>
      <T x={420} y={772} s={14.3} a="left">Lipid regulation</T>
      <T x={594} y={813} s={14.3} a="left">Programmed cell death</T>

      {HEATMAPS.map((h, i) => (
        <ChartCanvas key={"h" + i} box={h.canvas} make={() => heatmapConfig(h)} />
      ))}

      {/* Panel G */}
      <T x={68} y={445} s={15} a="left" style={{ textDecoration: "underline" }}>Ontology cluster analysis</T>
      <T x={68} y={461} s={9.3} a="left" c="#222" sx={1.08}>
        wt vs. <i>Treml4</i>
        <sup style={{ fontSize: 6 }}>-/-</sup> M1 macrophages
      </T>
      <ChartCanvas box={[0, 470, 400, 810]} make={netConfig} />
      {G_LEGEND.map((t, i) => (
        <div
          key={"l" + i}
          style={{ position: "absolute", left: 7, top: 796.5 + i * 9, height: 9, display: "flex", alignItems: "center", font: `7.9px ${FONT}`, color: "#333", whiteSpace: "nowrap" }}
        >
          <span style={{ display: "inline-block", width: 5.5, height: 7, background: G_COLORS[i], marginRight: 2 }} />
          {t}
        </div>
      ))}
    </div>
  );
}
